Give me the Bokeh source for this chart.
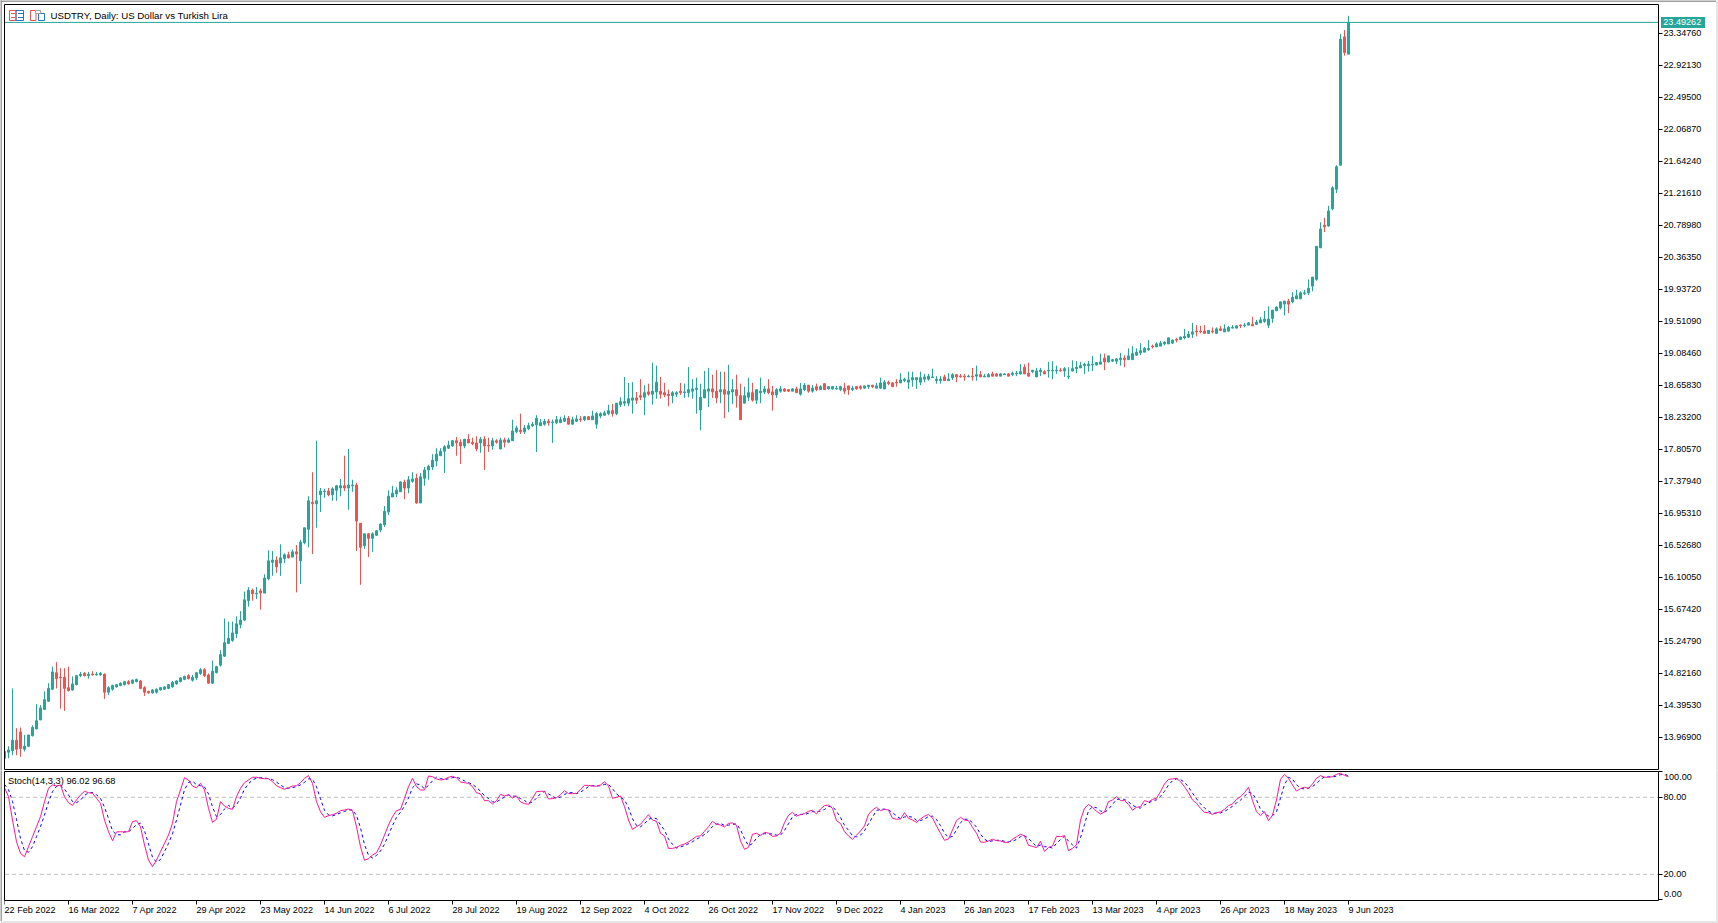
from bokeh.plotting import figure
from bokeh.layouts import column
from bokeh.models import BoxAnnotation, ColumnDataSource, FixedTicker, Label, PrintfTickFormatter
from bokeh.embed import file_html
from bokeh.resources import INLINE

opens = [
    13.69,13.77,13.79,13.93,14.04,13.81,13.85,13.99,14.08,14.20,
    14.34,14.45,14.61,14.83,14.77,14.77,14.63,14.60,14.67,14.79,
    14.82,14.79,14.81,14.80,14.80,14.81,14.57,14.61,14.64,14.66,
    14.67,14.71,14.69,14.71,14.72,14.63,14.58,14.56,14.57,14.60,
    14.61,14.62,14.64,14.68,14.71,14.74,14.79,14.73,14.76,14.82,
    14.87,14.80,14.69,14.83,14.93,15.05,15.22,15.26,15.35,15.47,
    15.53,15.79,15.93,15.88,15.92,15.89,16.08,16.30,16.33,16.29,
    16.35,16.40,16.37,16.44,16.32,16.56,16.74,17.10,17.08,17.20,
    17.24,17.25,17.20,17.26,17.29,17.32,17.29,17.32,17.33,16.82,
    16.52,16.68,16.62,16.66,16.73,16.80,16.97,17.17,17.21,17.24,
    17.37,17.29,17.38,17.42,17.09,17.42,17.53,17.57,17.65,17.72,
    17.78,17.82,17.85,17.92,17.90,17.85,17.94,17.90,17.89,17.89,
    17.94,17.86,17.85,17.92,17.81,17.93,17.90,17.92,18.04,18.06,
    18.04,18.08,18.12,18.13,18.12,18.14,18.18,18.16,18.16,18.16,
    18.18,18.22,18.14,18.18,18.21,18.20,18.24,18.20,18.14,18.25,
    18.26,18.28,18.32,18.28,18.40,18.42,18.42,18.46,18.49,18.52,
    18.50,18.57,18.54,18.57,18.58,18.56,18.54,18.52,18.54,18.58,
    18.56,18.56,18.58,18.60,18.33,18.49,18.58,18.61,18.58,18.57,
    18.60,18.54,18.57,18.60,18.52,18.42,18.50,18.56,18.46,18.56,
    18.57,18.61,18.57,18.53,18.58,18.61,18.60,18.58,18.61,18.54,
    18.60,18.66,18.58,18.64,18.60,18.68,18.61,18.61,18.61,18.60,
    18.62,18.65,18.60,18.64,18.64,18.62,18.64,18.66,18.62,18.62,
    18.61,18.70,18.69,18.70,18.69,18.72,18.70,18.73,18.73,18.70,
    18.74,18.74,18.76,18.72,18.72,18.77,18.72,18.76,18.80,18.78,
    18.78,18.77,18.78,18.78,18.80,18.77,18.77,18.81,18.81,18.78,
    18.80,18.81,18.80,18.81,18.81,18.90,18.82,18.84,18.77,18.84,
    18.84,18.85,18.85,18.85,18.86,18.85,18.77,18.85,18.88,18.89,
    18.92,18.92,18.93,18.93,18.94,19.02,18.97,18.98,18.98,19.00,
    19.02,19.00,19.00,19.06,19.09,19.10,19.13,19.18,19.17,19.18,
    19.21,19.21,19.22,19.27,19.27,19.29,19.30,19.34,19.38,19.38,
    19.38,19.35,19.38,19.35,19.41,19.37,19.38,19.42,19.42,19.46,
    19.45,19.46,19.47,19.47,19.49,19.51,19.46,19.55,19.65,19.69,
    19.74,19.78,19.77,19.81,19.81,19.88,19.89,19.98,20.07,20.49,
    20.79,20.78,21.01,21.27,21.59,23.30,23.07,
]
closes = [
    13.78,13.80,13.93,13.81,13.82,13.85,14.00,14.10,14.19,14.36,
    14.47,14.62,14.84,14.75,14.76,14.62,14.59,14.68,14.79,14.81,
    14.79,14.81,14.80,14.81,14.82,14.57,14.63,14.66,14.67,14.69,
    14.71,14.68,14.73,14.74,14.62,14.57,14.56,14.60,14.61,14.63,
    14.64,14.67,14.70,14.72,14.76,14.78,14.75,14.77,14.83,14.87,
    14.79,14.69,14.85,14.91,15.07,15.23,15.29,15.36,15.48,15.53,
    15.80,15.93,15.88,15.89,15.89,16.09,16.32,16.33,16.24,16.36,
    16.40,16.36,16.44,16.41,16.57,16.76,17.12,17.08,17.12,17.25,
    17.25,17.20,17.28,17.32,17.32,17.29,17.33,17.33,16.85,16.50,
    16.68,16.62,16.68,16.72,16.81,16.98,17.18,17.22,17.26,17.37,
    17.29,17.40,17.41,17.09,17.44,17.53,17.58,17.66,17.74,17.78,
    17.84,17.86,17.92,17.89,17.85,17.94,17.89,17.88,17.81,17.94,
    17.85,17.85,17.92,17.90,17.93,17.90,17.93,18.05,18.09,18.04,
    18.09,18.12,18.14,18.22,18.16,18.18,18.16,18.17,18.20,18.20,
    18.22,18.14,18.20,18.21,18.20,18.24,18.20,18.25,18.28,18.28,
    18.29,18.32,18.28,18.42,18.44,18.44,18.48,18.49,18.46,18.50,
    18.56,18.54,18.58,18.70,18.54,18.53,18.52,18.56,18.56,18.56,
    18.57,18.60,18.61,18.62,18.50,18.60,18.61,18.57,18.49,18.60,
    18.54,18.58,18.60,18.52,18.20,18.52,18.56,18.46,18.60,18.58,
    18.61,18.56,18.53,18.60,18.61,18.58,18.58,18.61,18.56,18.61,
    18.66,18.58,18.62,18.60,18.64,18.60,18.64,18.64,18.62,18.64,
    18.58,18.60,18.62,18.61,18.62,18.65,18.66,18.64,18.65,18.69,
    18.70,18.68,18.64,18.69,18.73,18.74,18.73,18.76,18.76,18.76,
    18.77,18.78,18.77,18.74,18.74,18.72,18.74,18.80,18.77,18.77,
    18.77,18.78,18.77,18.80,18.77,18.78,18.80,18.78,18.78,18.81,
    18.81,18.78,18.82,18.82,18.84,18.81,18.78,18.86,18.85,18.86,
    18.81,18.86,18.86,18.86,18.85,18.88,18.78,18.88,18.90,18.92,
    18.94,18.94,18.94,18.96,18.97,18.97,19.05,19.00,19.01,19.02,
    19.00,19.05,19.08,19.10,19.12,19.15,19.15,19.17,19.21,19.22,
    19.23,19.29,19.26,19.26,19.30,19.31,19.34,19.37,19.37,19.37,
    19.35,19.39,19.37,19.41,19.39,19.41,19.43,19.43,19.45,19.45,
    19.46,19.49,19.45,19.50,19.53,19.54,19.54,19.66,19.70,19.77,
    19.78,19.74,19.83,19.85,19.89,19.89,19.95,20.10,20.51,20.74,
    20.77,20.98,21.29,21.57,23.27,23.09,23.49262,
]
highs = [
    13.82,13.85,14.62,14.09,14.10,14.00,14.00,14.13,14.41,14.40,
    14.58,14.69,14.91,14.97,14.89,14.89,14.91,14.78,14.80,14.84,
    14.84,14.84,14.85,14.84,14.84,14.82,14.65,14.67,14.68,14.70,
    14.72,14.73,14.74,14.75,14.73,14.65,14.59,14.61,14.62,14.64,
    14.65,14.68,14.72,14.73,14.77,14.79,14.81,14.80,14.84,14.89,
    14.89,14.82,14.99,14.92,15.13,15.55,15.51,15.51,15.58,15.65,
    15.91,15.97,15.95,15.97,15.95,16.14,16.46,16.45,16.38,16.54,
    16.42,16.44,16.47,16.53,16.60,16.76,17.18,17.50,17.92,17.29,
    17.28,17.29,17.30,17.33,17.41,17.72,17.81,17.40,17.36,16.82,
    16.68,16.69,16.70,16.73,16.82,17.05,17.26,17.32,17.30,17.38,
    17.40,17.45,17.50,17.48,17.49,17.57,17.60,17.74,17.82,17.82,
    17.86,17.92,17.93,17.97,17.94,17.94,18.01,17.96,17.98,17.97,
    17.98,17.96,17.96,17.94,17.96,17.96,17.96,18.20,18.12,18.28,
    18.13,18.16,18.17,18.26,18.21,18.21,18.21,18.20,18.25,18.24,
    18.26,18.25,18.24,18.26,18.25,18.25,18.25,18.32,18.30,18.30,
    18.32,18.40,18.41,18.42,18.50,18.77,18.69,18.70,18.57,18.74,
    18.66,18.68,18.96,18.92,18.77,18.69,18.60,18.58,18.58,18.69,
    18.68,18.90,18.74,18.76,18.68,18.85,18.89,18.80,18.86,18.84,
    18.84,18.93,18.74,18.80,18.68,18.64,18.76,18.69,18.60,18.76,
    18.65,18.74,18.65,18.62,18.65,18.62,18.61,18.62,18.64,18.69,
    18.69,18.66,18.66,18.68,18.66,18.68,18.64,18.65,18.65,18.65,
    18.69,18.65,18.65,18.65,18.66,18.65,18.66,18.66,18.69,18.76,
    18.73,18.72,18.70,18.74,18.82,18.76,18.84,18.84,18.76,18.84,
    18.81,18.81,18.88,18.78,18.78,18.80,18.82,18.82,18.81,18.81,
    18.81,18.80,18.89,18.92,18.85,18.81,18.82,18.84,18.82,18.82,
    18.82,18.82,18.84,18.85,18.94,18.94,18.96,18.86,18.89,18.89,
    18.86,18.97,18.98,18.92,18.89,18.90,18.90,18.99,18.98,18.97,
    18.96,18.98,19.05,18.97,19.08,19.08,19.05,19.01,19.02,19.09,
    19.06,19.15,19.18,19.15,19.22,19.17,19.26,19.20,19.23,19.25,
    19.25,19.29,19.27,19.29,19.31,19.41,19.38,19.49,19.46,19.45,
    19.46,19.39,19.43,19.43,19.45,19.47,19.45,19.46,19.46,19.47,
    19.49,19.50,19.57,19.53,19.57,19.65,19.71,19.66,19.71,19.77,
    19.78,19.81,19.90,19.93,19.91,19.93,20.07,20.10,20.51,20.83,
    20.89,21.05,21.31,21.59,23.34,23.39,23.58,
]
lows = [
    13.67,13.69,13.73,13.73,13.71,13.78,13.84,13.98,14.08,14.20,
    14.34,14.44,14.60,14.62,14.35,14.32,14.58,14.59,14.66,14.77,
    14.78,14.75,14.79,14.79,14.79,14.48,14.53,14.59,14.63,14.65,
    14.66,14.67,14.68,14.70,14.61,14.52,14.55,14.55,14.55,14.59,
    14.60,14.61,14.63,14.67,14.70,14.73,14.74,14.71,14.73,14.80,
    14.77,14.68,14.68,14.82,14.91,15.04,15.21,15.24,15.29,15.42,
    15.52,15.71,15.79,15.81,15.67,15.89,16.06,16.12,16.16,16.12,
    16.29,16.35,16.37,15.90,16.01,16.54,16.50,16.41,16.76,16.97,
    17.16,17.18,17.12,17.12,17.18,17.25,17.00,17.24,16.45,16.00,
    16.48,16.37,16.44,16.65,16.70,16.77,16.93,17.17,17.17,17.24,
    17.14,17.22,17.36,17.08,17.09,17.32,17.40,17.53,17.58,17.72,
    17.49,17.81,17.84,17.72,17.61,17.82,17.89,17.86,17.78,17.76,
    17.53,17.77,17.80,17.88,17.81,17.83,17.89,17.92,18.02,18.01,
    18.01,18.06,18.10,17.77,18.12,18.12,18.12,17.89,18.14,18.16,
    18.17,18.14,18.14,18.17,18.17,18.18,18.20,18.20,18.08,18.22,
    18.25,18.26,18.24,18.26,18.37,18.38,18.38,18.28,18.41,18.46,
    18.26,18.52,18.40,18.48,18.48,18.50,18.38,18.42,18.50,18.53,
    18.49,18.50,18.48,18.28,18.06,18.49,18.37,18.49,18.42,18.42,
    18.22,18.30,18.41,18.36,18.20,18.42,18.45,18.44,18.41,18.42,
    18.54,18.54,18.32,18.49,18.56,18.57,18.57,18.58,18.56,18.52,
    18.58,18.56,18.56,18.58,18.60,18.60,18.60,18.60,18.60,18.58,
    18.54,18.53,18.58,18.60,18.60,18.61,18.61,18.62,18.62,18.61,
    18.61,18.66,18.64,18.64,18.69,18.70,18.61,18.64,18.61,18.66,
    18.70,18.72,18.76,18.68,18.68,18.72,18.72,18.73,18.70,18.76,
    18.72,18.77,18.72,18.72,18.77,18.77,18.77,18.78,18.78,18.78,
    18.80,18.78,18.78,18.78,18.80,18.81,18.78,18.82,18.77,18.78,
    18.81,18.76,18.74,18.81,18.84,18.77,18.74,18.84,18.82,18.89,
    18.81,18.84,18.85,18.92,18.94,18.86,18.96,18.97,18.94,18.92,
    18.90,19.00,19.00,19.05,19.06,19.10,19.12,19.15,19.17,19.18,
    19.19,19.21,19.21,19.23,19.26,19.27,19.29,19.29,19.31,19.35,
    19.35,19.35,19.35,19.35,19.38,19.37,19.38,19.42,19.42,19.42,
    19.43,19.46,19.45,19.46,19.49,19.49,19.42,19.49,19.65,19.67,
    19.59,19.62,19.75,19.81,19.81,19.86,19.86,19.91,20.05,20.49,
    20.70,20.77,20.99,21.22,21.59,23.05,23.07,
]
stoch_k = [
    87.5,80.5,62.3,45.4,36.3,33.7,41.5,49.3,57.1,64.9,
    76.6,87,89.6,88.8,89.6,80.5,75.8,73.7,77.9,81.8,
    84.7,83.6,83.1,79.2,75.3,62.3,53.2,46.2,53,53.2,
    53,53.2,61,61.8,57.1,42.8,31.1,25.9,31.1,37.6,
    44.1,50.6,59.7,76.6,85.7,95.3,93.5,88.8,87.3,90.9,
    85.7,71.4,60.5,62.8,76.6,73.2,71.4,70.6,80.5,87,
    91.4,93.5,95.6,95.6,94.8,94.5,94.5,92.2,89,87.5,
    86.2,87.5,88.8,89,91.4,94.8,96.9,90.9,76.6,68.8,
    64.4,65.7,66.5,67.5,69.6,70.1,70.9,69.6,57.1,41.5,
    30.9,32.2,35,36.8,42.8,50.6,58.4,64.9,69.6,70.6,
    79.2,88.3,94.8,88.3,85.7,85.7,96.6,96.1,94.3,93.5,
    94,95.6,96.4,95.1,92,91.4,90.9,88.3,83.6,82.6,
    77.4,77.4,74.8,77.4,82.3,81,82.1,79.5,81,76.4,
    75.1,74.5,79.2,84.4,84.7,84.7,78.7,79,79.7,82.1,
    85.2,82.9,82.9,82.9,86.2,89.3,89.3,88.8,88.6,89.6,
    92.2,88.8,79.2,80,81,72.7,62.3,55,57.1,59,
    62.8,66.5,62.3,61.3,52,49.9,40.2,40.2,41,42.6,
    43.6,45.2,47.3,49.6,49.9,53.5,57.1,61.3,59,58.4,
    56.9,59.7,60,58.2,46,39.5,41,51.2,52,50.1,
    52.7,52,49.6,49.9,52,60.3,66,68.3,65.4,66.5,
    67.3,69.1,69.9,67,70.9,73.5,74,71.4,61.8,59.7,
    53.2,49.9,47.3,50.4,53.8,57.7,66.7,70.1,72.2,69.6,
    70.6,70.1,63.6,62.9,63.1,68,63.6,62.3,60.5,63.1,
    65.2,66.7,63.9,57.7,52,46.5,47.5,54.5,61.8,64.4,
    62.3,61.8,56.6,52,45.2,44.9,46,47.3,46.2,46,
    44.9,44.9,47.3,49.3,51.2,49.9,42.6,41.8,40.8,45.7,
    37.9,40.8,42.1,49.6,49.3,50.1,38.4,40.2,42.9,62.3,
    71.4,74.5,72.2,69.1,67,68.6,76.6,77.9,80.5,77.4,
    77.4,74.5,69.9,72.2,72.7,77.4,76.4,78.4,79.2,84.4,
    90.4,94,94.3,94.8,92.2,88.3,83.6,77.9,75.3,71.4,
    68.3,68,66.7,68,68.6,70.6,73.5,74.8,78.4,80.5,
    83.6,87.8,77.4,68.8,65.7,68.8,61.8,66.2,77.9,94,
    97.9,94.8,89.6,84.9,86.8,87.8,87,90.4,94.8,96.9,
    95.6,95.6,96.1,97.9,98.7,97.1,96.02,
]
stoch_d = [
    90,86,76.8,62.7,48,38.5,37.2,41.5,49.3,57.1,
    66.2,76.2,84.4,88.5,89.3,86.3,82,76.7,75.8,77.8,
    81.5,83.4,83.8,82,79.2,72.3,63.6,53.9,50.8,50.8,
    53.1,53.1,55.7,58.7,60,53.9,43.7,33.3,29.4,31.5,
    37.6,44.1,51.5,62.3,74,85.9,91.5,92.5,89.9,89,
    88,82.7,72.5,64.9,66.6,70.9,73.7,71.7,74.2,79.4,
    86.3,90.6,93.5,94.9,95.3,94.9,94.6,93.7,91.9,89.6,
    87.6,87,87.5,88.4,89.7,91.7,94.4,94.2,88.1,78.8,
    69.9,66.3,65.5,66.6,67.9,69,70.2,70.2,65.9,56.1,
    43.2,34.9,32.7,34.7,38.2,43.4,50.6,58,64.3,68.4,
    73.1,79.4,87.4,90.5,89.6,86.6,89.3,92.8,95.7,94.6,
    93.9,94.4,95.3,95.7,94.5,92.8,91.4,90.2,87.6,84.8,
    81.2,79.1,76.5,76.5,78.2,80.2,81.8,80.9,80.9,79,
    77.5,75.3,76.3,79.4,82.8,84.6,82.7,80.8,79.1,80.3,
    82.3,83.4,83.7,82.9,84,86.1,88.3,89.1,88.9,89,
    90.1,90.2,86.7,82.7,80.1,77.9,72,63.3,58.1,57,
    59.6,62.8,63.9,63.4,58.5,54.4,47.4,43.4,40.5,41.3,
    42.4,43.8,45.4,47.4,48.9,51,53.5,57.3,59.1,59.6,
    58.1,58.3,58.9,59.3,54.7,47.9,42.2,43.9,48.1,51.1,
    51.6,51.6,51.4,50.5,50.5,54.1,59.4,64.9,66.6,66.7,
    66.4,67.6,68.8,68.7,69.3,70.5,72.8,73,69.1,64.3,
    58.2,54.3,50.1,49.2,50.5,54,59.4,64.5,69.7,70.6,
    70.8,70.1,68.1,65.5,63.2,64.7,64.9,64.6,62.1,61.9,
    63,65,65.3,62.8,57.9,52.1,48.7,49.5,54.6,60.2,
    62.9,62.9,60.2,56.8,51.3,47.4,45.4,46.1,46.5,46.5,
    45.7,45.3,45.7,47.2,49.3,50.1,47.9,44.8,41.7,42.8,
    41.5,41.5,40.3,44.2,47,49.7,45.9,42.9,40.5,48.5,
    58.9,69.4,72.7,71.9,69.4,68.2,70.7,74.4,78.3,78.6,
    78.4,76.4,73.9,72.2,71.6,74.1,75.5,77.4,78,80.7,
    84.7,89.6,92.9,94.4,93.8,91.8,88,83.3,78.9,74.9,
    71.7,69.2,67.7,67.6,67.8,69,70.9,73,75.6,77.8,
    80.8,84,82.9,78,70.6,67.7,65.4,65.6,68.7,79.4,
    89.9,95.6,94.1,89.8,87.1,86.5,87.2,88.4,90.7,94,
    95.8,96,95.8,96.5,97.6,97.9,96.68,
]

price_ticks = [23.3476, 22.9213, 22.495, 22.0687, 21.6424, 21.2161, 20.7898, 20.3635,
               19.9372, 19.5109, 19.0846, 18.6583, 18.232, 17.8057, 17.3794, 16.9531,
               16.5268, 16.1005, 15.6742, 15.2479, 14.8216, 14.3953, 13.969]
date_labels = ["22 Feb 2022", "16 Mar 2022", "7 Apr 2022", "29 Apr 2022", "23 May 2022",
               "14 Jun 2022", "6 Jul 2022", "28 Jul 2022", "19 Aug 2022", "12 Sep 2022",
               "4 Oct 2022", "26 Oct 2022", "17 Nov 2022", "9 Dec 2022", "4 Jan 2023",
               "26 Jan 2023", "17 Feb 2023", "13 Mar 2023", "4 Apr 2023", "26 Apr 2023",
               "18 May 2023", "9 Jun 2023"]
stoch_levels = [100, 80, 20, 0]
last_price = 23.49262

GREEN = "#26a69a"
RED = "#ef5350"
BLUE = "#1f78c8"
EDGE = "#a0a0a0"
FONT = "Liberation Sans"

W = 1718
SPLIT = 770  # row where the lower panel's figure starts


# window pixels to data, the frames cover the whole window so text can sit in the margins
def px_x(px):
    return (px - 4.5) / 4


def px_y(py):
    return 23.3476 - (py - 33.3) * 0.013322


def px_s(py):
    return 20 + (874.3 - py) / 1.2833


def box(fig, to_y, left, right, top, bottom, line=None, fill=None, width=1):
    fig.add_layout(BoxAnnotation(left=px_x(left), right=px_x(right), top=to_y(top), bottom=to_y(bottom),
                                 fill_color=fill, fill_alpha=1, line_color=line, line_alpha=1, line_width=width))


def text(fig, x, y, s, size, color="black", **kw):
    fig.add_layout(Label(x=x, y=y, text=s, text_font=FONT, text_font_size=size, text_color=color,
                         text_baseline="middle", **kw))


bars = list(range(len(opens)))
source = ColumnDataSource(data=dict(
    x=bars, o=opens, c=closes, h=highs, l=lows,
    top=[max(a, b) for a, b in zip(opens, closes)],
    bottom=[min(a, b) for a, b in zip(opens, closes)],
    color=[GREEN if c >= o else RED for o, c in zip(opens, closes)],
    k=stoch_k, d=stoch_d,
))

# bokeh draws half a pixel in, so the ranges start half a pixel later to keep 1px lines crisp
x_range = (px_x(0.5), px_x(W + 0.5))

p = figure(width=W, height=SPLIT, x_range=x_range, y_range=(px_y(SPLIT + 0.5), px_y(0.5)),
           y_axis_location="right", x_axis_location=None, toolbar_location=None,
           output_backend="svg", min_border=0)
p.grid.visible = False
p.outline_line_color = None
p.yaxis.fixed_location = px_x(1658.5)
p.yaxis.ticker = FixedTicker(ticks=price_ticks)
p.yaxis.formatter = PrintfTickFormatter(format="%.5f")

p.segment("x", "h", "x", "l", source=source, color="color", line_width=1)
p.vbar("x", 0.5, "top", "bottom", source=source, fill_color="color", line_color="color", line_width=1)
p.segment(px_x(5), last_price, px_x(1658), last_price, line_color=GREEN, line_width=1)

box(p, px_y, 2, 4.5, 0, SPLIT, fill="white")
box(p, px_y, 4.5, 1658.5, 4.5, 769.5, line="black")
box(p, px_y, 1661, 1705, 17, 28, fill=GREEN)
text(p, px_x(1663.3), last_price, f"{last_price:.5f}", "9.1px", color="white")
text(p, px_x(50.5), px_y(15.7), "USDTRY, Daily:  US Dollar vs Turkish Lira", "9.7px")

# the two small chart icons left of the title
box(p, px_y, 9.5, 16, 10.5, 20.5, line=RED)
box(p, px_y, 16, 23.5, 10.5, 20.5, line=BLUE)
box(p, px_y, 30.5, 36, 10.5, 20.5, line=RED)
box(p, px_y, 38.5, 44.5, 13.5, 20.5, line=BLUE)
box(p, px_y, 35.5, 40.5, 10.5, 13.5, line=EDGE, fill="white")
for left, right, col in ((11, 15, RED), (18, 23, BLUE)):
    for row in (13.5, 17.5):
        p.segment(px_x(left), px_y(row), px_x(right), px_y(row), line_color=col, line_width=1)

s = figure(width=W, height=923 - SPLIT, x_range=x_range, y_range=(px_s(923.5), px_s(SPLIT + 0.5)),
           y_axis_location="right", toolbar_location=None, output_backend="svg", min_border=0)
s.grid.visible = False
s.outline_line_color = None
s.yaxis.fixed_location = px_x(1658.5)
s.yaxis.ticker = FixedTicker(ticks=stoch_levels)
s.yaxis.formatter = PrintfTickFormatter(format="%.2f")
s.yaxis.major_label_overrides = {100: "", 0: ""}
s.xaxis.fixed_location = px_s(900.5)
s.xaxis.ticker = FixedTicker(ticks=[16 * n for n in range(len(date_labels))])
s.xaxis.major_label_text_color = None

for level in (80, 20):
    s.segment(px_x(5), level, px_x(1658), level, line_color="#c0c0c0", line_width=1, line_dash="4 3")
s.line("x", "d", source=source, line_color="#0000ff", line_width=1, line_dash="3 3")
s.line("x", "k", source=source, line_color="#ff1493", line_width=1)

box(s, px_s, 2, 4.5, SPLIT, 923, fill="white")
box(s, px_s, 4.5, 1658.5, 771.5, 900.5, line="black")
text(s, px_x(8), px_s(780.7), "Stoch(14,3,3) 96.02 96.68", "9.3px")
text(s, px_x(1664), px_s(776.7), "100.00", "9.1px")
text(s, px_x(1664), px_s(894.3), "0.00", "9.1px")
for n, lab in enumerate(date_labels):
    text(s, 16 * n, px_s(909.5), lab, "9.1px", text_align="left")

# window edge
box(p, px_y, 0, 2, 0, SPLIT, fill=EDGE)
box(p, px_y, 0, 1716, 0, 2, fill=EDGE)
box(p, px_y, 1716, W, 0, SPLIT, fill="#e6e6e6")
box(s, px_s, 0, 2, SPLIT, 921, fill=EDGE)
box(s, px_s, 1716, W, SPLIT, 923, fill="#e6e6e6")
box(s, px_s, 0, W, 921, 923, fill="#e6e6e6")

for fig in (p, s):
    ax = fig.yaxis[0]
    ax.axis_line_color = None
    ax.major_tick_line_color = "black"
    ax.major_tick_in = 0
    ax.major_tick_out = 4
    ax.minor_tick_line_color = None
    ax.major_label_standoff = 1
    ax.major_label_text_font = FONT
    ax.major_label_text_font_size = "9.1px"
    ax.major_label_text_color = "black"
s.xaxis.axis_line_color = None
s.xaxis.major_tick_line_color = "black"
s.xaxis.major_tick_in = 0
s.xaxis.major_tick_out = 4
s.xaxis.minor_tick_line_color = None

page = column(p, s, spacing=0, styles={"background": "white"})
open("out.html", "w").write(file_html(page, INLINE))
